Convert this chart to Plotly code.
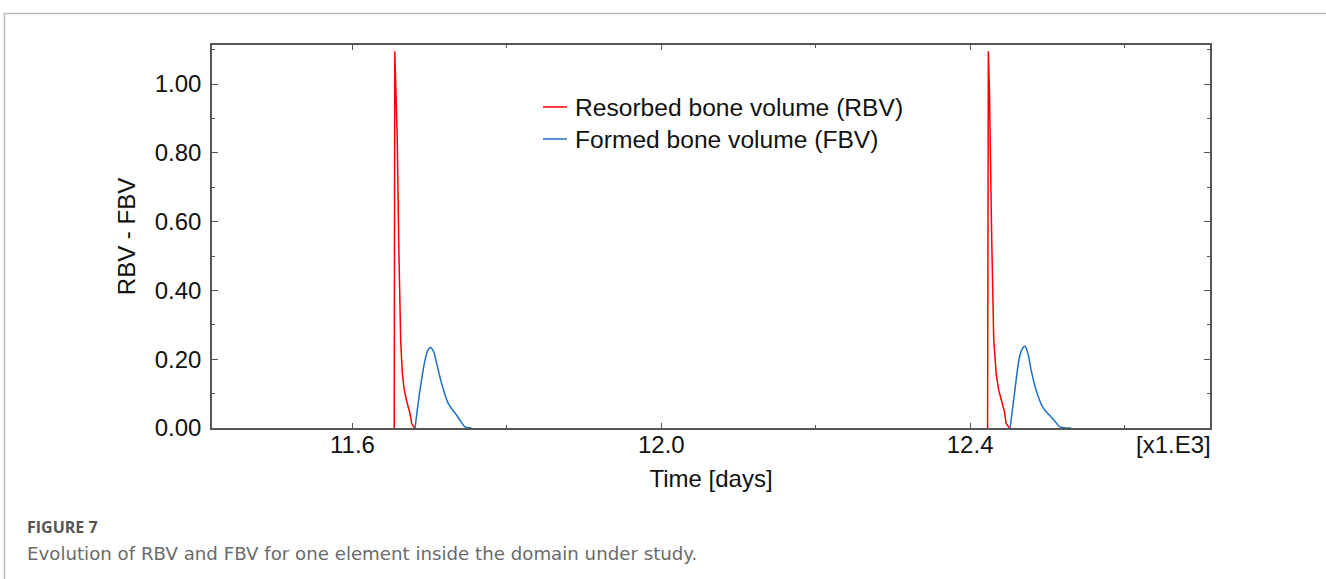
import plotly.graph_objects as go

# Time in thousands of days ([x1.E3])
rbv_time_1 = [11.6540, 11.6548, 11.6562, 11.6580, 11.6598, 11.6624, 11.6645, 11.6671, 11.6700, 11.6723, 11.6745, 11.6767, 11.6801]
rbv_vals_1 = [0.0, 1.095, 0.98, 0.836, 0.545, 0.255, 0.159, 0.110, 0.080, 0.061, 0.042, 0.013, 0.0]
rbv_time_2 = [12.4226, 12.4236, 12.4250, 12.4263, 12.4280, 12.4306, 12.4337, 12.4370, 12.4415, 12.4444, 12.4466, 12.4509]
rbv_vals_2 = [0.0, 1.095, 0.98, 0.836, 0.545, 0.255, 0.159, 0.110, 0.072, 0.048, 0.013, 0.0]

fbv_time_1 = [11.6810, 11.6874, 11.6939, 11.6980, 11.7013, 11.7050, 11.7091, 11.7155, 11.7241, 11.7350, 11.7393, 11.7458, 11.7544]
fbv_vals_1 = [0.0, 0.110, 0.197, 0.228, 0.234, 0.222, 0.187, 0.129, 0.071, 0.037, 0.022, 0.003, 0.0]
fbv_time_2 = [12.4518, 12.4574, 12.4639, 12.4680, 12.4712, 12.4750, 12.4790, 12.4855, 12.4940, 12.5049, 12.5092, 12.5157, 12.5308]
fbv_vals_2 = [0.0, 0.100, 0.206, 0.232, 0.2375, 0.215, 0.168, 0.110, 0.061, 0.032, 0.022, 0.004, 0.0]

series_names = ["Resorbed bone volume (RBV)", "Formed bone volume (FBV)"]
series_colors = ["#ff0000", "#1e6ec8"]

x_range = [11.418, 12.7107]
y_range = [0.0, 1.1134]

FONT = "Liberation Sans, Arial, sans-serif"
AX = "#555555"

fig = go.Figure()
fig.add_trace(go.Scatter(
    x=rbv_time_1 + [None] + rbv_time_2, y=rbv_vals_1 + [None] + rbv_vals_2,
    mode="lines", name=series_names[0], showlegend=False,
    line=dict(color=series_colors[0], width=1.5), connectgaps=False))
fig.add_trace(go.Scatter(
    x=fbv_time_1 + [None] + fbv_time_2, y=fbv_vals_1 + [None] + fbv_vals_2,
    mode="lines", name=series_names[1], showlegend=False,
    line=dict(color=series_colors[1], width=1.5, shape="spline", smoothing=0.8), connectgaps=False))

L, R, T, B = 212, 116, 45, 151
W, H = 1326, 579
pw, ph = W - L - R, H - T - B

def px(x):
    return (x - L) / pw

def py(y):
    return (H - B - y) / ph

shapes = [
    dict(type="path", xref="paper", yref="paper",
         path=f"M {px(4.5)},{py(579)} L {px(4.5)},{py(13.5)} L {px(1330)},{py(13.5)}",
         line=dict(color="#bbbbbb", width=1.5)),
]
annotations = [
    dict(text="[x1.E3]", xref="paper", yref="paper", x=px(1213), y=py(445),
         xanchor="right", yanchor="middle", showarrow=False,
         font=dict(size=24, family=FONT, color="#111111")),
    dict(text="<b>FIGURE 7</b>", xref="paper", yref="paper", x=px(25), y=py(527),
         xanchor="left", yanchor="middle", showarrow=False,
         font=dict(size=16, family="Open Sans, sans-serif", color="#555555")),
    dict(text="Evolution of RBV and FBV for one element inside the domain under study.",
         xref="paper", yref="paper", x=px(25), y=py(553),
         xanchor="left", yanchor="middle", showarrow=False,
         font=dict(size=18.2, family="DejaVu Sans, sans-serif", color="#6a6a6a")),
]

# legend drawn manually (line sample + text)
for i, (name, col) in enumerate(zip(series_names, series_colors)):
    yy = 107 + 32 * i
    shapes.append(dict(type="line", xref="paper", yref="paper",
                       x0=px(543), x1=px(567), y0=py(yy), y1=py(yy),
                       line=dict(color=col, width=1.5)))
    annotations.append(dict(text=name, xref="paper", yref="paper", x=px(573), y=py(yy),
                            xanchor="left", yanchor="middle", showarrow=False,
                            font=dict(size=24.6, family=FONT, color="#111111")))

fig.update_layout(
    width=W, height=H,
    margin=dict(l=L, r=R, t=T, b=B),
    paper_bgcolor="white", plot_bgcolor="white",
    font=dict(family=FONT, size=24, color="#111111"),
    showlegend=False,
    xaxis=dict(
        range=x_range, showgrid=False, zeroline=False,
        showline=True, linecolor=AX, linewidth=1.5, mirror="ticks",
        ticks="inside", ticklen=5, tickcolor=AX, tickwidth=1.2,
        tick0=11.6, dtick=0.4, tickformat=".1f",
        minor=dict(ticks="inside", ticklen=3, dtick=0.2, tick0=11.6, tickcolor=AX, tickwidth=1.2),
        ticklabelstandoff=-6,
        title=dict(text="Time [days]", standoff=14, font=dict(size=24)),
    ),
    yaxis=dict(
        range=y_range, showgrid=False, zeroline=False,
        showline=True, linecolor=AX, linewidth=1.5, mirror="ticks",
        ticks="inside", ticklen=6, tickcolor=AX, tickwidth=1.2,
        tick0=0, dtick=0.2, tickformat=".2f",
        minor=dict(ticks="inside", ticklen=3, dtick=0.1, tick0=0, tickcolor=AX, tickwidth=1.2),
        ticklabelstandoff=4,
        title=dict(text="RBV - FBV", standoff=12, font=dict(size=24)),
    ),
    shapes=shapes,
    annotations=annotations,
)

fig.write_html("out.html")
